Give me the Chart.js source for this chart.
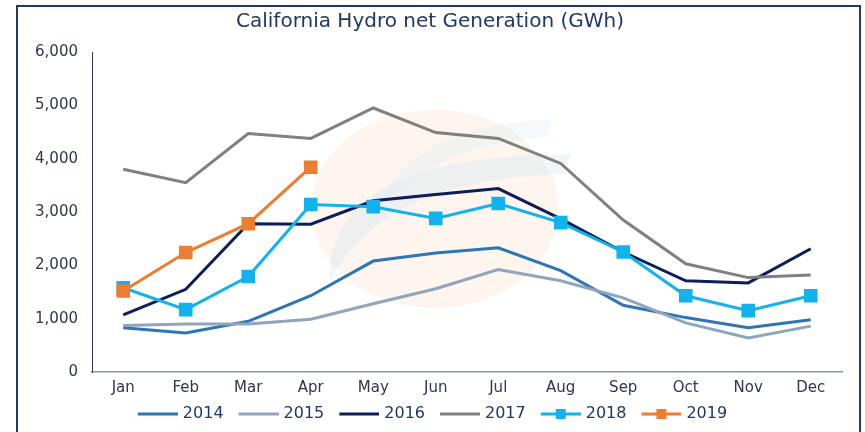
<!DOCTYPE html>
<html>
<head>
<meta charset="utf-8">
<script src="https://cdn.jsdelivr.net/npm/chart.js@4.4.1/dist/chart.umd.min.js"></script>
<style>
  html, body { margin: 0; padding: 0; background: #fff; overflow: hidden; }
  #frame { position: absolute; left: 16px; top: 5px; width: 841px; height: 440px; border: 2px solid #1F3864; }
  #wrap { position: absolute; left: 0; top: 0; width: 841px; height: 425px; }
</style>
</head>
<body>
<div id="frame"><div id="wrap"><canvas id="myChart"></canvas></div></div>
<script>
const months = ['Jan', 'Feb', 'Mar', 'Apr', 'May', 'Jun', 'Jul', 'Aug', 'Sep', 'Oct', 'Nov', 'Dec'];
const yTicks = [0, 1000, 2000, 3000, 4000, 5000, 6000];

const gen2014 = [830, 730, 950, 1430, 2080, 2230, 2330, 1900, 1250, 1020, 830, 980];
const gen2015 = [870, 900, 900, 990, 1280, 1560, 1920, 1710, 1390, 920, 640, 860];
const gen2016 = [1070, 1550, 2780, 2770, 3210, 3330, 3440, 2870, 2250, 1710, 1670, 2310];
const gen2017 = [3800, 3550, 4470, 4380, 4950, 4490, 4380, 3910, 2850, 2030, 1770, 1820];
const gen2018 = [1580, 1170, 1790, 3140, 3100, 2880, 3160, 2800, 2250, 1430, 1150, 1430];
const gen2019 = [1520, 2240, 2780, 3840];

const FONT = "'DejaVu Sans', sans-serif";

function legendIcon(color, marker) {
    const c = document.createElement('canvas');
    c.width = 48; c.height = 12;
    const g = c.getContext('2d');
    g.strokeStyle = color;
    g.lineWidth = 3;
    g.beginPath(); g.moveTo(8, 6); g.lineTo(48, 6); g.stroke();
    if (marker) { g.fillStyle = color; g.fillRect(23, 1, 10, 10); }
    return c;
}

function series(label, data, color, marker, order) {
    return {
        label: label,
        data: data,
        borderColor: color,
        backgroundColor: color,
        borderWidth: 3,
        tension: 0,
        pointStyle: 'rect',
        pointRadius: marker ? 7.5 : 0,
        pointHoverRadius: marker ? 7.5 : 0,
        order: order,
        marker: marker
    };
}

// faint logo watermark behind the lines
const watermark = {
    id: 'watermark',
    beforeDatasetsDraw(chart) {
        const a = chart.chartArea;
        const ctx = chart.ctx;
        const cx = a.left + a.width * 0.457;
        const cy = a.top + a.height * 0.49;
        const rx = a.width * 0.165, ry = a.height * 0.31;
        ctx.save();
        ctx.fillStyle = 'rgba(250, 225, 205, 0.35)';
        ctx.beginPath(); ctx.ellipse(cx, cy, rx, ry, 0, 0, Math.PI * 2); ctx.fill();
        ctx.fillStyle = 'rgba(205, 228, 246, 0.3)';
        ctx.beginPath();
        ctx.moveTo(cx - rx * 0.85, cy + ry * 0.75);
        ctx.quadraticCurveTo(cx - rx * 0.9, cy - ry * 0.55, cx + rx * 1.1, cy - ry * 0.55);
        ctx.lineTo(cx + rx * 1.05, cy - ry * 0.35);
        ctx.quadraticCurveTo(cx - rx * 0.45, cy - ry * 0.3, cx - rx * 0.85, cy + ry * 0.75);
        ctx.fill();
        ctx.fillStyle = 'rgba(218, 234, 248, 0.3)';
        ctx.beginPath();
        ctx.moveTo(cx - rx * 0.55, cy + ry * 0.2);
        ctx.quadraticCurveTo(cx - rx * 0.3, cy - ry * 0.85, cx + rx * 0.95, cy - ry * 0.9);
        ctx.lineTo(cx + rx * 0.9, cy - ry * 0.72);
        ctx.quadraticCurveTo(cx - rx * 0.1, cy - ry * 0.65, cx - rx * 0.55, cy + ry * 0.2);
        ctx.fill();
        ctx.restore();
    }
};

const ctx = document.getElementById('myChart').getContext('2d');
const chart = new Chart(ctx, {
    type: 'line',
    data: {
        labels: months,
        datasets: [
            series('2014', gen2014, '#2E75B6', false, 5),
            series('2015', gen2015, '#8FA5BE', false, 4),
            series('2016', gen2016, '#0C1E5B', false, 3),
            series('2017', gen2017, '#808080', false, 2),
            series('2018', gen2018, '#12B2EC', true, 1),
            series('2019', gen2019, '#ED7D31', true, 0)
        ]
    },
    options: {
        responsive: true,
        maintainAspectRatio: false,
        animation: false,
        layout: { padding: { left: 0, right: 17, top: 0, bottom: 0 } },
        plugins: {
            title: {
                display: true,
                text: 'California Hydro net Generation (GWh)',
                color: '#1F3864',
                font: { family: FONT, size: 20, weight: 'normal' },
                padding: { top: 3, bottom: 18 }
            },
            legend: {
                position: 'bottom',
                labels: {
                    color: '#1F3864',
                    font: { family: FONT, size: 16 },
                    usePointStyle: true,
                    pointStyleWidth: 42,
                    padding: 10,
                    generateLabels(chart) {
                        return chart.data.datasets.map((ds, i) => ({
                            text: ds.label,
                            fontColor: '#1F3864',
                            pointStyle: legendIcon(ds.borderColor, ds.marker),
                            strokeStyle: ds.borderColor,
                            fillStyle: ds.borderColor,
                            lineWidth: 0,
                            hidden: !chart.isDatasetVisible(i),
                            datasetIndex: i
                        }));
                    }
                }
            },
            tooltip: { enabled: false }
        },
        scales: {
            x: {
                offset: true,
                afterFit(scale) { scale.height = scale.height - 8; },
                grid: { display: false, drawTicks: false },
                border: { display: true, color: '#8497B0', width: 1.5 },
                ticks: { color: '#2F3550', font: { family: FONT, size: 15 }, padding: 7 }
            },
            y: {
                min: 0,
                max: 6000,
                afterFit(scale) { scale.width = 74; },
                afterBuildTicks(scale) { scale.ticks = yTicks.map(v => ({ value: v })); },
                grid: { display: false, drawTicks: false },
                border: { display: true, color: '#2B3A60', width: 1 },
                ticks: {
                    color: '#2F3550',
                    font: { family: FONT, size: 15 },
                    padding: 14,
                    callback: v => v.toLocaleString('en-US')
                }
            }
        }
    },
    plugins: [watermark]
});
</script>
</body>
</html>
